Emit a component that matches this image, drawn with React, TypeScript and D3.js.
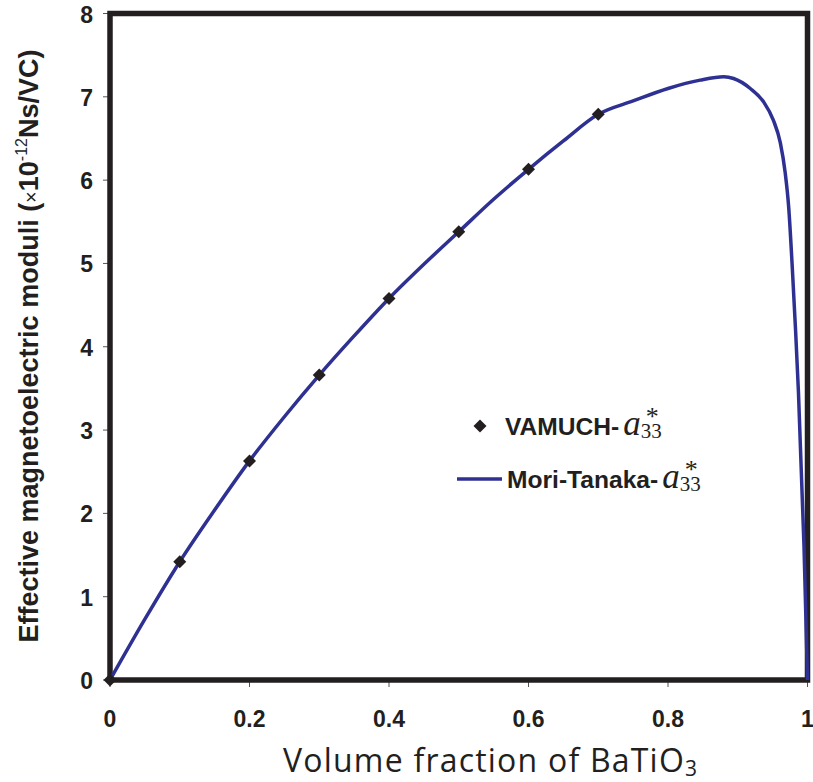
import React from "react";
import * as d3 from "d3";

const mtX = [0, 0.05, 0.1, 0.15, 0.2, 0.25, 0.3, 0.35, 0.4, 0.45, 0.5, 0.55, 0.6, 0.65, 0.7, 0.75, 0.8, 0.846, 0.88, 0.894, 0.918, 0.937, 0.951, 0.961, 0.968, 0.973, 0.978, 0.983, 0.987, 0.995, 1.0];
const mtY = [0, 0.73, 1.42, 2.04, 2.63, 3.16, 3.66, 4.13, 4.58, 4.99, 5.38, 5.77, 6.13, 6.47, 6.79, 6.95, 7.1, 7.2, 7.24, 7.22, 7.1, 6.94, 6.72, 6.45, 6.09, 5.68, 4.98, 4.18, 3.46, 1.6, 0];

const vamX = [0, 0.1, 0.2, 0.3, 0.4, 0.5, 0.6, 0.7];
const vamY = [0, 1.42, 2.63, 3.66, 4.58, 5.38, 6.13, 6.79];

const xTicks = [0, 0.2, 0.4, 0.6, 0.8, 1];
const xTickLabels = ["0", "0.2", "0.4", "0.6", "0.8", "1"];
const yTicks = [0, 1, 2, 3, 4, 5, 6, 7, 8];

const INK = "#231f20";
const BLUE = "#2e3192";
const SANS = "'Liberation Sans', Arial, sans-serif";
const HUMAN = "'Open Sans', 'Noto Sans', sans-serif";
const SERIF = "'Liberation Serif', 'Times New Roman', serif";

function LegendLabel({ x, y, label }: { x: number; y: number; label: string }) {
  return (
    <text x={x} y={y} fill={INK}>
      <tspan fontFamily={SANS} fontWeight="bold" fontSize={24.6}>
        {label}
      </tspan>
      <tspan dx={4} fontFamily={SERIF} fontStyle="italic" fontSize={35}>
        a
      </tspan>
      <tspan dx={0} dy={3} fontFamily={SERIF} fontSize={21}>
        33
      </tspan>
      <tspan dx={-16} dy={-13} fontFamily={SERIF} fontSize={26}>
        *
      </tspan>
    </text>
  );
}

export default function App() {
  const x = d3.scaleLinear().domain([0, 1]).range([110, 807.5]);
  const y = d3.scaleLinear().domain([0, 8]).range([680, 13.5]);

  const pts: [number, number][] = mtX.map((v, i) => [v, mtY[i]]);
  const line = d3
    .line<[number, number]>()
    .x((d) => x(d[0]))
    .y((d) => y(d[1]))
    .curve(d3.curveMonotoneX);

  const diamond = (cx: number, cy: number, r: number) =>
    `M${cx},${cy - r}L${cx + r},${cy}L${cx},${cy + r}L${cx - r},${cy}Z`;

  return (
    <svg
      width={813}
      height={782}
      style={{ position: "absolute", left: 0, top: 0, background: "#fff" }}
    >
      <rect x={0} y={0} width={813} height={782} fill="#fff" />
      {/* ticks */}
      {yTicks.map((t) => (
        <line key={"yt" + t} x1={103} x2={110} y1={y(t)} y2={y(t)} stroke="#555" strokeWidth={1} />
      ))}
      {xTicks.map((t) => (
        <line key={"xt" + t} x1={x(t)} x2={x(t)} y1={680} y2={687} stroke="#555" strokeWidth={1} />
      ))}
      {/* frame */}
      <rect
        x={x(0)}
        y={y(8)}
        width={x(1) - x(0)}
        height={y(0) - y(8)}
        fill="none"
        stroke={INK}
        strokeWidth={5.5}
      />
      {/* y tick labels */}
      {yTicks.map((t) => (
        <text
          key={"yl" + t}
          x={93}
          y={y(t) + 9}
          textAnchor="end"
          fontFamily={SANS}
          fontWeight="bold"
          fontSize={23}
          fill={INK}
        >
          {t}
        </text>
      ))}
      {/* x tick labels */}
      {xTicks.map((t, i) => (
        <text
          key={"xl" + t}
          x={x(t)}
          y={727}
          textAnchor="middle"
          fontFamily={SANS}
          fontWeight="bold"
          fontSize={23}
          fill={INK}
        >
          {xTickLabels[i]}
        </text>
      ))}
      {/* curve */}
      <path d={line(pts) || ""} fill="none" stroke={BLUE} strokeWidth={3.5} />
      {/* markers */}
      {vamX.map((v, i) => (
        <path key={"m" + i} d={diamond(x(v), y(vamY[i]), 6.5)} fill={INK} />
      ))}
      {/* legend */}
      <path d={diamond(480, 426, 6.5)} fill={INK} />
      <LegendLabel x={505} y={435} label="VAMUCH-" />
      <line x1={457} x2={502} y1={479} y2={479} stroke={BLUE} strokeWidth={3.5} />
      <LegendLabel x={507} y={488} label="Mori-Tanaka-" />
      {/* x title */}
      <text
        x={283}
        y={772}
        fontFamily={HUMAN}
        fontSize={32}
        fill={INK}
        textLength={414}
        lengthAdjust="spacing"
      >
        Volume fraction of BaTiO
        <tspan fontSize={21} dy={4}>
          3
        </tspan>
      </text>
      {/* y title */}
      <text
        transform="translate(38,346) rotate(-90)"
        textAnchor="middle"
        fontFamily={SANS}
        fontWeight="bold"
        fontSize={27}
        fill={INK}
      >
        Effective magnetoelectric moduli (
        <tspan fontWeight="normal" fontSize={20}>×</tspan>
        <tspan>10</tspan>
        <tspan fontWeight="normal" fontSize={16} dy={-11}>-12</tspan>
        <tspan dy={11}>Ns/VC)</tspan>
      </text>
    </svg>
  );
}
